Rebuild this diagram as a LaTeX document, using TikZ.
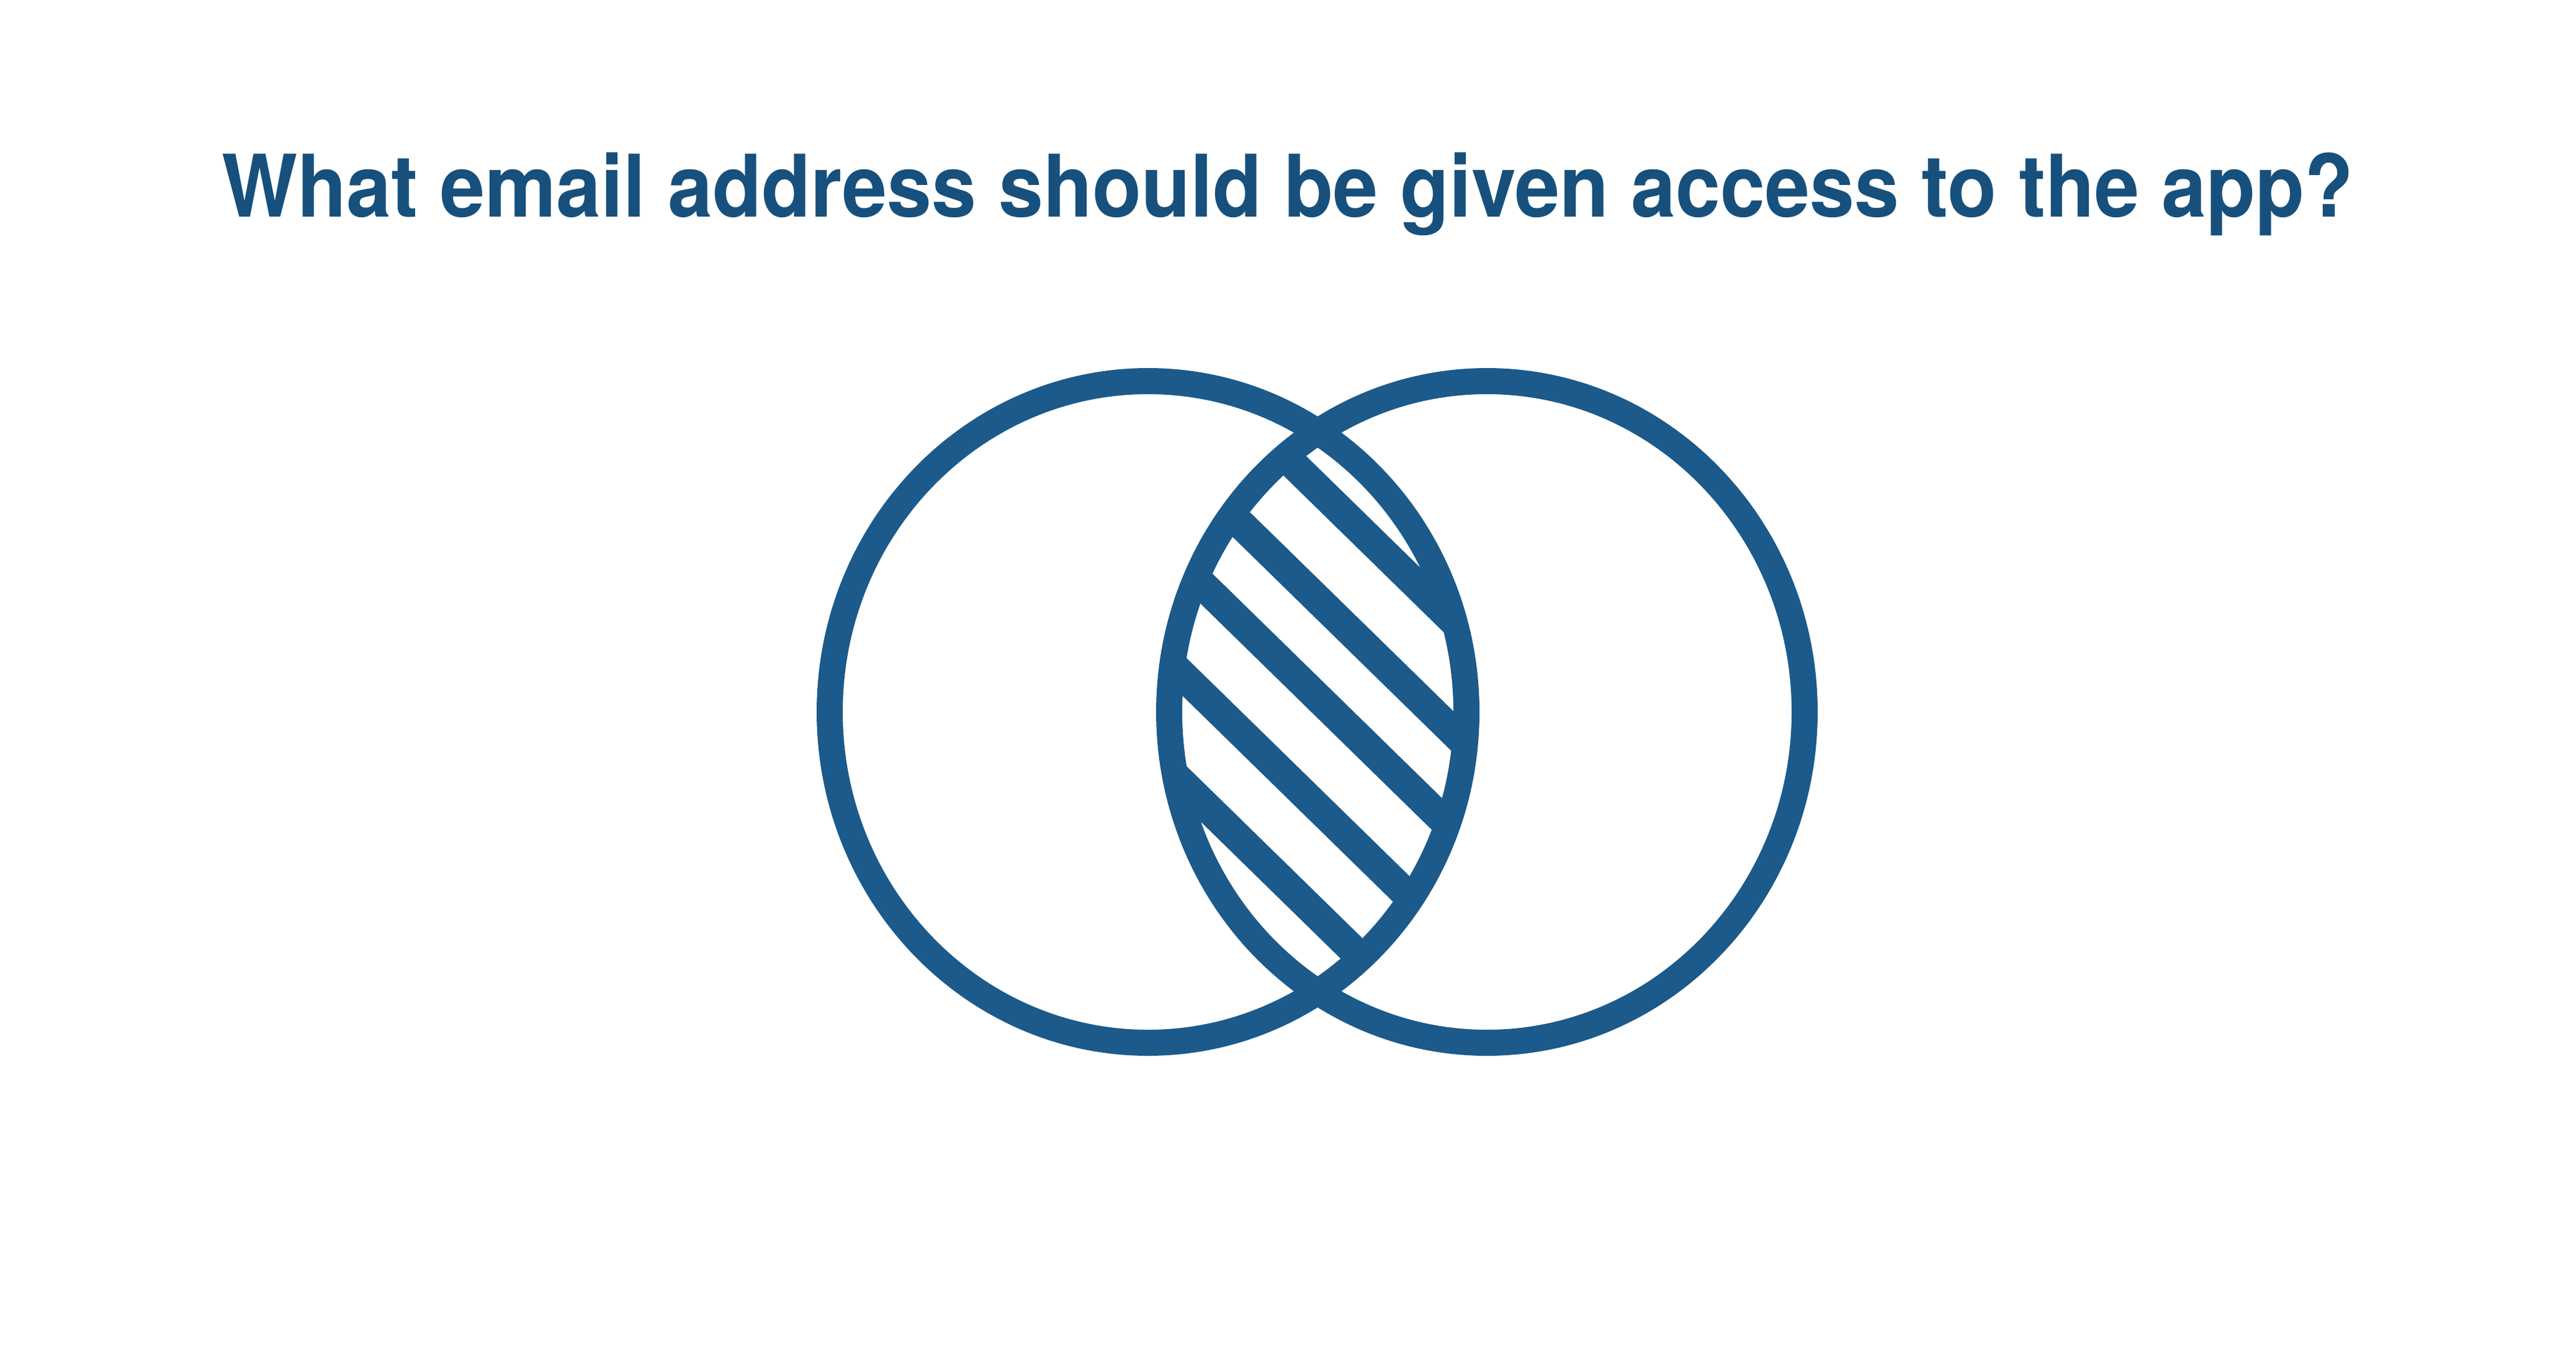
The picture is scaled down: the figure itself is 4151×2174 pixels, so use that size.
\documentclass[tikz,border=0pt]{standalone}
\usepackage{fontspec}
\newfontfamily\titlefont{TeX Gyre Heros}[FakeStretch=0.93]
\definecolor{titleblue}{HTML}{17507C}
\definecolor{inkblue}{HTML}{1B5A8B}
\tikzset{
  ring/.style={draw=inkblue, line width=4.2mm},
  hatchline/.style={draw=inkblue, line width=4.8mm},
  heading/.style={inner sep=0pt, outer sep=0pt, text=titleblue, anchor=base,
    font=\titlefont\bfseries\fontsize{39.6pt}{44pt}\selectfont}
}
\begin{document}
\begin{tikzpicture}[x=0.1mm,y=-0.1mm]
  \useasboundingbox (0,0) rectangle (4151,2174);
  \fill[white] (0,0) rectangle (4151,2174);
  % title
  \node[heading] (title) at (2075,349) {What email address should be given access to the app?};
  % hatching inside the lens
  \begin{scope}
    \clip (1850,1147) ellipse [x radius=513, y radius=533];
    \clip (2396,1147) ellipse [x radius=512, y radius=533];
    \foreach \mx/\my in {2221/882, 2178/1019, 2134/1134, 2084/1262, 2046/1399}{
      \draw[hatchline] (\mx-450,\my-440) -- (\mx+450,\my+440);
    }
  \end{scope}
  % the two circles
  \draw[ring] (1850,1147) ellipse [x radius=513, y radius=533];
  \draw[ring] (2396,1147) ellipse [x radius=512, y radius=533];
\end{tikzpicture}
\end{document}
